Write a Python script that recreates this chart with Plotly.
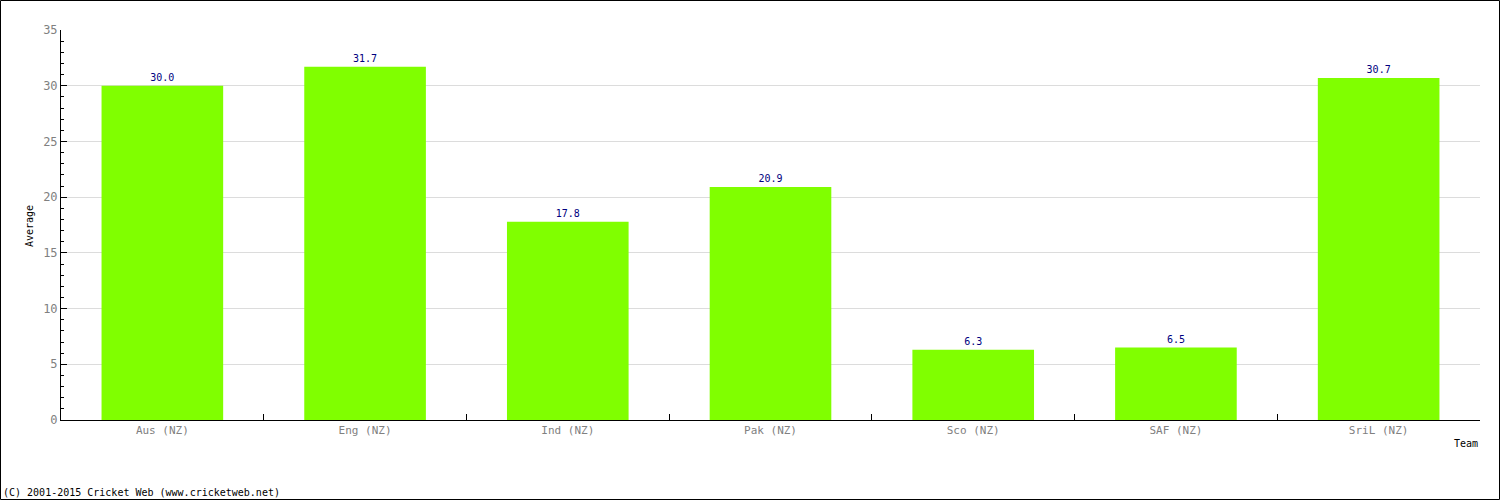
import plotly.graph_objects as go

teams = ["Aus (NZ)", "Eng (NZ)", "Ind (NZ)", "Pak (NZ)", "Sco (NZ)", "SAF (NZ)", "SriL (NZ)"]
averages = [30.0, 31.7, 17.8, 20.9, 6.3, 6.5, 30.7]
labels = ["30.0", "31.7", "17.8", "20.9", "6.3", "6.5", "30.7"]

W, H = 1500, 500
L, R, T, B = 61, 20, 30, 80
pw, ph = W - L - R, H - T - B

def px(x):
    return (x - L) / pw

def py(y):
    return (H - B - y) / ph

MONO = "DejaVu Sans Mono"

fig = go.Figure(go.Bar(
    x=teams, y=averages, text=labels, textposition="outside",
    textfont=dict(family=MONO, size=10, color="#000080"),
    marker=dict(color="#80ff00", line=dict(width=0)),
    cliponaxis=False, width=0.6,
))

fig.update_layout(
    width=W, height=H, margin=dict(l=L, r=R, t=T, b=B),
    paper_bgcolor="white", plot_bgcolor="white", showlegend=False,
    font=dict(family=MONO, size=11, color="#808080"),
    xaxis=dict(showline=True, linecolor="black", linewidth=1, ticks="inside",
               tickson="boundaries", ticklen=6, tickcolor="black",
               showgrid=False, tickfont=dict(family=MONO, size=11, color="#808080")),
    yaxis=dict(range=[0, 35], dtick=5, showline=True, linecolor="black", linewidth=1,
               ticks="inside", ticklen=6, tickcolor="black",
               showgrid=True, gridcolor="#dcdcdc", gridwidth=1, zeroline=False,
               minor=dict(dtick=1, ticks="inside", ticklen=3, tickcolor="black", showgrid=False),
               tickfont=dict(family=MONO, size=12, color="#808080")),
)

fig.add_annotation(text="Average", x=px(29), y=py(226), xref="paper", yref="paper",
                   xanchor="center", yanchor="middle",
                   textangle=-90, showarrow=False, font=dict(family=MONO, size=10, color="black"))
fig.add_annotation(text="Team", x=px(1480), y=py(443), xref="paper", yref="paper",
                   xanchor="right", yanchor="middle", showarrow=False,
                   font=dict(family=MONO, size=10, color="black"))
fig.add_annotation(text="(C) 2001-2015 Cricket Web (www.cricketweb.net)", x=px(1), y=py(492),
                   xref="paper", yref="paper", xanchor="left", yanchor="middle", showarrow=False,
                   font=dict(family=MONO, size=10, color="black"))
fig.add_shape(type="rect", xref="paper", yref="paper",
              x0=px(0.5), x1=px(W - 0.5), y0=py(0.5), y1=py(H - 0.5),
              line=dict(color="black", width=1), fillcolor="rgba(0,0,0,0)", layer="above")

fig.write_html("out.html", config={"displayModeBar": False},
               post_script="document.body.style.margin='0';document.body.style.overflow='hidden';")
